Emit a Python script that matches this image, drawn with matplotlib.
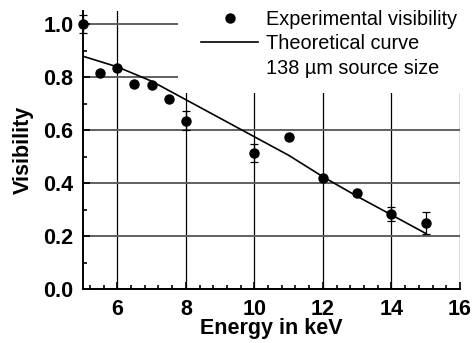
import matplotlib
matplotlib.use('Agg')
import matplotlib.pyplot as plt
from matplotlib.lines import Line2D
from matplotlib.patches import Rectangle
from matplotlib.ticker import MultipleLocator, FormatStrFormatter

plt.rcParams['font.family'] = ['Liberation Sans', 'DejaVu Sans']

# measured visibility
energy = [5, 5.5, 6, 6.5, 7, 7.5, 8, 10, 11, 12, 13, 14, 15]
visibility = [1.0, 0.815, 0.833, 0.775, 0.77, 0.717, 0.636, 0.514, 0.575, 0.419, 0.361, 0.282, 0.249]
vis_err = [0.033, 0, 0, 0, 0, 0, 0.037, 0.033, 0, 0, 0, 0.027, 0.04]

# theoretical curve, 138 um source
theo_energy = [5, 6, 7, 8, 9, 10, 11, 12, 13, 14, 15]
theo_vis = [0.879, 0.839, 0.785, 0.715, 0.645, 0.575, 0.505, 0.424, 0.35, 0.28, 0.21]

fig = plt.figure(figsize=(4.73, 3.43), dpi=100)
ax = fig.add_axes([0.1755, 0.1574, 0.797, 0.8106])

ax.set_xlim(5, 16)
ax.set_ylim(0, 1.05)

# grid: black verticals, gray horizontals
ax.xaxis.grid(True, color='black', lw=0.9, zorder=0)
ax.yaxis.grid(True, color='#606060', lw=1.4, zorder=0)
ax.set_axisbelow(True)

ax.plot(theo_energy, theo_vis, color='black', lw=1.2, zorder=3)
ax.errorbar(energy, visibility, yerr=vis_err, fmt='o', color='black', ms=6.5,
            capsize=2.8, elinewidth=0.9, capthick=0.9, zorder=4, clip_on=False)

# white area behind the legend hides the grid there
ax.add_patch(Rectangle((0.252, 0.705), 0.75, 0.3, transform=ax.transAxes,
                       facecolor='white', edgecolor='none', zorder=2, clip_on=False))

handles = [Line2D([], [], color='black', marker='o', ms=6.5, linestyle='none'),
           Line2D([], [], color='black', lw=1.2),
           Line2D([], [], linestyle='none')]
labels = ['Experimental visibility', 'Theoretical curve', '138 \u00b5m source size']
ax.legend(handles, labels, loc='upper right', bbox_to_anchor=(1.03, 1.055),
          frameon=False, fontsize=14.3, handlelength=2.9, handletextpad=0.4,
          labelspacing=0.28, borderpad=0.2)

for side in ['top', 'right']:
    ax.spines[side].set_visible(False)
ax.spines['left'].set_linewidth(1.4)
ax.spines['bottom'].set_linewidth(1.4)

ax.xaxis.set_major_locator(MultipleLocator(2))
ax.xaxis.set_minor_locator(MultipleLocator(0.4))
ax.yaxis.set_major_locator(MultipleLocator(0.2))
ax.yaxis.set_minor_locator(MultipleLocator(0.1))
ax.yaxis.set_major_formatter(FormatStrFormatter('%.1f'))
ax.xaxis.set_major_formatter(FormatStrFormatter('%d'))
ax.tick_params(which='both', direction='in', width=1.2)
ax.tick_params(which='major', length=5, labelsize=15.5)
ax.tick_params(axis='x', which='major', pad=7)
ax.tick_params(axis='y', which='major', pad=7)
ax.tick_params(which='minor', length=3)
for lab in ax.get_xticklabels() + ax.get_yticklabels():
    lab.set_fontweight('bold')

ax.set_xlabel('Energy in keV', fontsize=15.5, fontweight='bold', labelpad=-1)
ax.set_ylabel('Visibility', fontsize=15.5, fontweight='bold', labelpad=7)

fig.savefig('out.png', dpi=100)
